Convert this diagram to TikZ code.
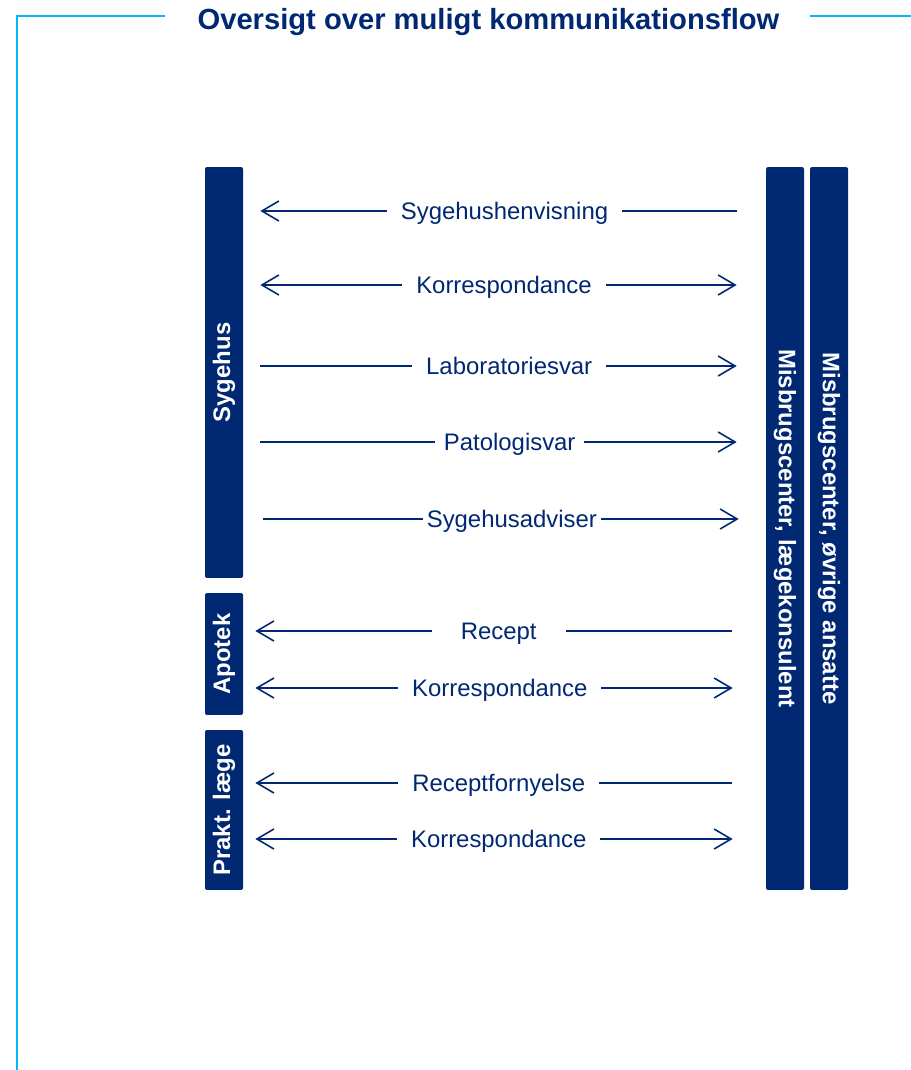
\documentclass[tikz,border=0pt]{standalone}
\usepackage{fontspec}
\setmainfont{Liberation Sans}
\usepackage{xcolor}
\definecolor{navy}{RGB}{0, 40, 115}
\definecolor{framecyan}{RGB}{0, 185, 245}
\usepackage{tikz}
\usetikzlibrary{arrows.meta}

\begin{document}
\begin{tikzpicture}[x=0.02cm, y=-0.02cm,
    bar/.style={fill=navy, rounded corners=0.04cm, inner sep=0pt, minimum width=0.76cm,
        text=white, font=\fontsize{13.6pt}{16pt}\selectfont\bfseries},
    flow/.style={navy, line width=0.9pt, shorten <=0.34cm, shorten >=0.58cm},
    lowflow/.style={navy, line width=0.9pt, shorten <=0.24cm, shorten >=0.68cm},
    lbl/.style={fill=white, text=navy, inner xsep=0.28cm, inner ysep=0pt, yshift=-0.04cm,
        text height=1.38ex, text depth=0pt, font=\fontsize{13.6pt}{16pt}\selectfont},
    >={Straight Barb[length=0.34cm, width=0.4cm]}]
    \useasboundingbox (0,0) rectangle (911,1070);

    % Frame and title
    \node[anchor=base, text=navy, font=\fontsize{16.6pt}{20pt}\selectfont\bfseries] (title) at (488.5,30)
        {Oversigt over muligt kommunikationsflow};
    \draw[framecyan, line width=1.1pt] (165,16) -- (17,16) -- (17,1070);
    \draw[framecyan, line width=1.1pt] (810,16) -- (911,16);

    % Left bars
    \node[bar, minimum height=8.22cm] (sygehus) at (224,372.5) {\rotatebox{90}{Sygehus}};
    \node[bar, minimum height=2.44cm] (apotek) at (224,654) {\rotatebox{90}{Apotek}};
    \node[bar, minimum height=3.2cm] (praktlaege) at (224,810) {\rotatebox{90}{Prakt. læge}};

    % Right bars
    \node[bar, minimum height=14.46cm] (konsulent) at (785,528.5) {\rotatebox{-90}{Misbrugscenter, lægekonsulent}};
    \node[bar, minimum height=14.46cm] (ansatte) at (829,528.5) {\rotatebox{-90}{Misbrugscenter, øvrige ansatte}};

    % Sygehus <-> Misbrugscenter
    \draw[flow, <-] (sygehus.east |- 0,211) -- node[lbl, pos=0.5] {Sygehushenvisning} (konsulent.west |- 0,211);
    \draw[flow, <->] (sygehus.east |- 0,285) -- node[lbl, pos=0.499] {Korrespondance} (konsulent.west |- 0,285);
    \draw[flow, ->] (sygehus.east |- 0,366) -- node[lbl, pos=0.509] {Laboratoriesvar} (konsulent.west |- 0,366);
    \draw[flow, ->] (sygehus.east |- 0,442) -- node[lbl, pos=0.51, inner xsep=0.18cm] {Patologisvar} (konsulent.west |- 0,442);
    \draw[flow, ->, shorten <=0.4cm, shorten >=0.54cm] (sygehus.east |- 0,519) -- node[lbl, pos=0.514, inner xsep=0.08cm] {Sygehusadviser} (konsulent.west |- 0,519);

    % Apotek <-> Misbrugscenter
    \draw[lowflow, <-] (apotek.east |- 0,631) -- node[lbl, pos=0.489, inner xsep=0.58cm] {Recept} (konsulent.west |- 0,631);
    \draw[lowflow, <->, shorten >=0.66cm] (apotek.east |- 0,688) -- node[lbl, pos=0.491] {Korrespondance} (konsulent.west |- 0,688);

    % Prakt. laege <-> Misbrugscenter
    \draw[lowflow, <-] (praktlaege.east |- 0,783) -- node[lbl, pos=0.489] {Receptfornyelse} (konsulent.west |- 0,783);
    \draw[lowflow, <->, shorten >=0.66cm] (praktlaege.east |- 0,839) -- node[lbl, pos=0.489] {Korrespondance} (konsulent.west |- 0,839);
\end{tikzpicture}
\end{document}
